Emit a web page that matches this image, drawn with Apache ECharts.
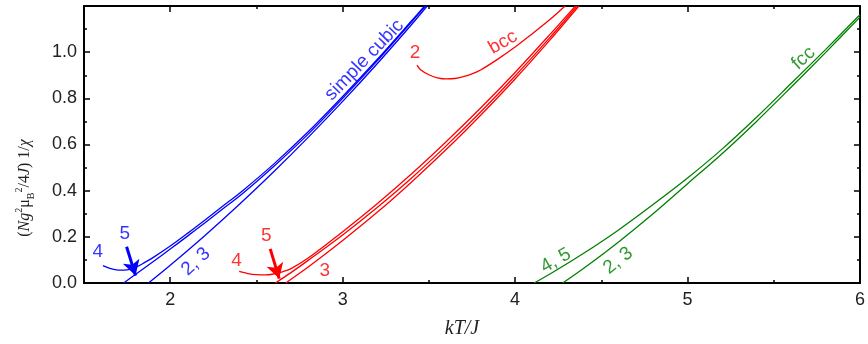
<!DOCTYPE html>
<html>
<head>
<meta charset="utf-8">
<script src="https://cdn.jsdelivr.net/npm/echarts@6/dist/echarts.min.js"></script>
<style>
  html, body { margin: 0; padding: 0; background: #fff; }
  #container { width: 868px; height: 344px; }
</style>
</head>
<body>
<div id="container"></div>
<script>
// simple cubic (blue)
var sc23 = [[1.874, 0], [2.0, 0.077], [2.2, 0.205], [2.4, 0.34], [2.6, 0.482], [2.8, 0.631], [3.0, 0.787], [3.2, 0.95], [3.4, 1.12], [3.49, 1.2]];
var sc5 = [[1.73, 0], [1.8, 0.038], [1.9, 0.092], [2.0, 0.147], [2.1, 0.203], [2.2, 0.26], [2.3, 0.318], [2.42, 0.388], [2.6, 0.505], [2.8, 0.645], [3.0, 0.8], [3.2, 0.962], [3.4, 1.132], [3.48, 1.2]];
var sc4 = [[1.61, 0.075], [1.65, 0.063], [1.7, 0.056], [1.75, 0.057], [1.8, 0.068], [1.85, 0.088], [1.9, 0.11], [2.0, 0.16], [2.1, 0.215], [2.2, 0.272], [2.3, 0.33], [2.42, 0.4], [2.6, 0.515], [2.8, 0.655], [3.0, 0.808], [3.2, 0.968], [3.4, 1.136], [3.475, 1.2]];
// bcc (red)
var bcc2 = [[3.431, 0.944], [3.45, 0.925], [3.5, 0.902], [3.55, 0.889], [3.6, 0.884], [3.65, 0.886], [3.7, 0.894], [3.75, 0.906], [3.8, 0.923], [3.9, 0.97], [4.0, 1.022], [4.1, 1.08], [4.2, 1.14], [4.29, 1.2]];
var bcc3 = [[2.67, 0], [2.8, 0.069], [3.0, 0.184], [3.2, 0.306], [3.4, 0.438], [3.6, 0.578], [3.8, 0.727], [4.0, 0.884], [4.2, 1.051], [4.37, 1.2]];
var bcc5 = [[2.61, 0], [2.7, 0.045], [2.8, 0.098], [3.0, 0.208], [3.2, 0.327], [3.4, 0.455], [3.6, 0.594], [3.8, 0.741], [4.0, 0.897], [4.2, 1.062], [4.36, 1.2]];
var bcc4 = [[2.40, 0.05], [2.45, 0.041], [2.5, 0.036], [2.55, 0.035], [2.6, 0.039], [2.65, 0.048], [2.7, 0.062], [2.8, 0.108], [3.0, 0.222], [3.2, 0.343], [3.4, 0.473], [3.6, 0.612], [3.8, 0.758], [4.0, 0.912], [4.2, 1.075], [4.35, 1.2]];
// fcc (green)
var fcc23 = [[4.276, 0], [4.4, 0.065], [4.6, 0.178], [4.8, 0.3], [5.0, 0.43], [5.2, 0.56], [5.4, 0.7], [5.6, 0.848], [5.8, 0.998], [6.0, 1.152]];
var fcc45 = [[4.11, 0], [4.2, 0.038], [4.4, 0.13], [4.6, 0.23], [4.8, 0.34], [5.0, 0.455], [5.2, 0.58], [5.4, 0.718], [5.6, 0.864], [5.8, 1.011], [6.0, 1.162]];

// tick values
var xMajor = [2, 3, 4, 5, 6];
var xMinor = [2.5, 3.5, 4.5, 5.5];

// annotations: [x, y, text, rotate]
var blueNotes = [[1.58, 0.135, "4", 0], [1.736, 0.213, "5", 0], [2.149, 0.092, "2, 3", 42], [3.126, 0.966, "simple cubic", 46]];
var redNotes = [[3.42, 0.996, "2", 0], [3.93, 1.043, "bcc", 30], [2.385, 0.097, "4", 0], [2.557, 0.204, "5", 0], [2.897, 0.054, "3", 0]];
var greenNotes = [[4.236, 0.097, "4, 5", 30], [4.598, 0.097, "2, 3", 38], [5.672, 0.974, "fcc", 42]];
var blueArrow = [[1.747, 0.157], [1.799, 0.032]];
var redArrow = [[2.58, 0.148], [2.632, 0.019]];

var BLUE = "#0000ff", RED = "#ff0000", GREEN = "#008000";

function curve(d, color) {
    return {
        type: "line", data: d, smooth: 0.3, showSymbol: false, silent: true,
        lineStyle: { color: color, width: 1.3 }, itemStyle: { color: color }
    };
}

function notes(list, color) {
    return {
        type: "scatter", symbolSize: 0, silent: true,
        data: list.map(function(n) {
            return {
                value: [n[0], n[1]],
                label: { show: true, position: "inside", formatter: n[2], rotate: n[3],
                    color: color, fontSize: 19, fontFamily: "Liberation Sans" }
            };
        })
    };
}

function arrow(a, color) {
    return {
        type: "line", data: [], silent: true,
        markLine: {
            silent: true, symbol: ["none", "arrow"], symbolSize: [13, 15],
            label: { show: false },
            lineStyle: { color: color, width: 3, type: "solid" },
            data: [[{ coord: a[0] }, { coord: a[1] }]]
        }
    };
}

function xAx(pos, vals, len, labels) {
    return {
        type: "value", position: pos, min: 1.5, max: 6, interval: 0.5,
        axisLine: { show: true, onZero: false, lineStyle: { color: "#000", width: 2 } },
        axisTick: { show: true, inside: true, length: len, customValues: vals, lineStyle: { color: "#000", width: 1.5 } },
        axisLabel: labels ? { show: true, customValues: xMajor, color: "#222", fontSize: 18, fontFamily: "Liberation Sans", margin: 8 } : { show: false },
        splitLine: { show: false }
    };
}

function yAx(pos, labels) {
    return {
        type: "value", position: pos, min: 0, max: 1.2, interval: 0.2,
        axisLine: { show: true, onZero: false, lineStyle: { color: "#000", width: 2 } },
        axisTick: { show: true, inside: true, length: 6, lineStyle: { color: "#000", width: 1.5 } },
        minorTick: { show: true, splitNumber: 2, length: 3, lineStyle: { color: "#000", width: 1.5 } },
        axisLabel: labels ? { show: true, showMaxLabel: false, color: "#222", fontSize: 18, fontFamily: "Liberation Sans", margin: 7,
            formatter: function(v) { return v.toFixed(1); } } : { show: false },
        splitLine: { show: false }
    };
}

var chart = echarts.init(document.getElementById("container"));

var xMain = xAx("bottom", xMajor, 6, true);
xMain.name = "kT/J";
xMain.nameLocation = "middle";
xMain.nameGap = 36;
xMain.nameTextStyle = { fontFamily: "Liberation Serif", fontStyle: "italic", fontSize: 20, color: "#222", padding: [0, 20, 0, 0] };

chart.setOption({
    backgroundColor: "#fff",
    animation: false,
    grid: { left: 84, right: 2, top: 6, bottom: 60, containLabel: false },
    xAxis: [xMain, xAx("bottom", xMinor, 3, false), xAx("top", xMajor, 6, false), xAx("top", xMinor, 3, false)],
    yAxis: [yAx("left", true), yAx("right", false)],
    graphic: [{
        type: "text", x: 25, y: 188, rotation: Math.PI / 2, silent: true,
        style: {
            text: "{n|(}{i|Ng}{sup|2}{n|μ}{sub|B}{sup|2}{n|/4}{i|J}{n|) 1/}{i|χ}",
            align: "center", verticalAlign: "middle",
            rich: {
                n: { fontFamily: "Liberation Serif", fontSize: 16, fill: "#222", lineHeight: 22, verticalAlign: "middle" },
                i: { fontFamily: "Liberation Serif", fontStyle: "italic", fontSize: 16, fill: "#222", lineHeight: 22, verticalAlign: "middle" },
                sup: { fontFamily: "Liberation Serif", fontSize: 10, fill: "#222", verticalAlign: "top", lineHeight: 22, padding: [0, 0, 6, 0] },
                sub: { fontFamily: "Liberation Serif", fontSize: 10, fill: "#222", verticalAlign: "bottom", lineHeight: 22, padding: [6, 0, 0, 0] }
            }
        }
    }],
    series: [
        curve(sc23, BLUE), curve(sc5, BLUE), curve(sc4, BLUE),
        curve(bcc2, RED), curve(bcc3, RED), curve(bcc5, RED), curve(bcc4, RED),
        curve(fcc23, GREEN), curve(fcc45, GREEN),
        notes(blueNotes, BLUE), notes(redNotes, RED), notes(greenNotes, GREEN),
        arrow(blueArrow, BLUE), arrow(redArrow, RED)
    ]
});
</script>
</body>
</html>
